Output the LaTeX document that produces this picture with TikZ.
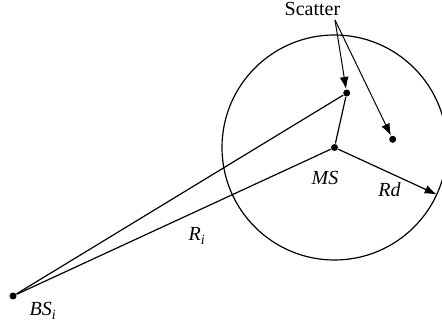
\documentclass[tikz,border=0pt]{standalone}
\usepackage{fontspec}
\setmainfont{Liberation Serif}
\usetikzlibrary{arrows.meta}

\tikzset{
  dot/.style={circle, fill=black, inner sep=0pt, minimum size=7pt},
  lbl/.style={font=\fontsize{20}{24}\selectfont\itshape, inner sep=0pt, anchor=base},
  tip/.style={-{Latex[length=12pt,width=9pt]}},
}

\begin{document}
\begin{tikzpicture}[x=1pt, y=-1pt, line width=1.2pt]
  \useasboundingbox (0,0) rectangle (442,323);
  \clip (0,0) rectangle (442,323);

  % Points
  \node[dot] (ms)  at (334.5,147.5) {};
  \node[dot] (sc1) at (346.7,93)    {};
  \node[dot] (sc2) at (392.7,139.3) {};
  \node[dot] (bs)  at (13,296)      {};
  \coordinate (src) at (335,20);
  \path (ms.center) ++(24.7:112.5) coordinate (rdend);

  % Cell of radius Rd round MS
  \draw (ms.center) circle (112.5pt);

  % Paths from BS
  \draw (bs) -- (ms);
  \draw (bs) -- (sc1);
  \draw (sc1) -- (ms);
  \draw[tip] (ms) -- (rdend);

  % Scatter label and its arrows
  \node[lbl, font=\fontsize{20}{24}\selectfont] (scatter) at (312.5,16) {Scatter};
  \draw[tip, line width=1pt] (src) -- (sc1);
  \draw[tip, line width=1pt] (src) -- (sc2);

  % Labels
  \node[lbl] (mslbl) at (325,185)   {MS};
  \node[lbl] (rdlbl) at (389.5,197) {Rd};
  \node[lbl] (rilbl) at (197,241)   {R\textsubscript{i}};
  \node[lbl] (bslbl) at (43,316)    {BS\textsubscript{i}};
\end{tikzpicture}
\end{document}
